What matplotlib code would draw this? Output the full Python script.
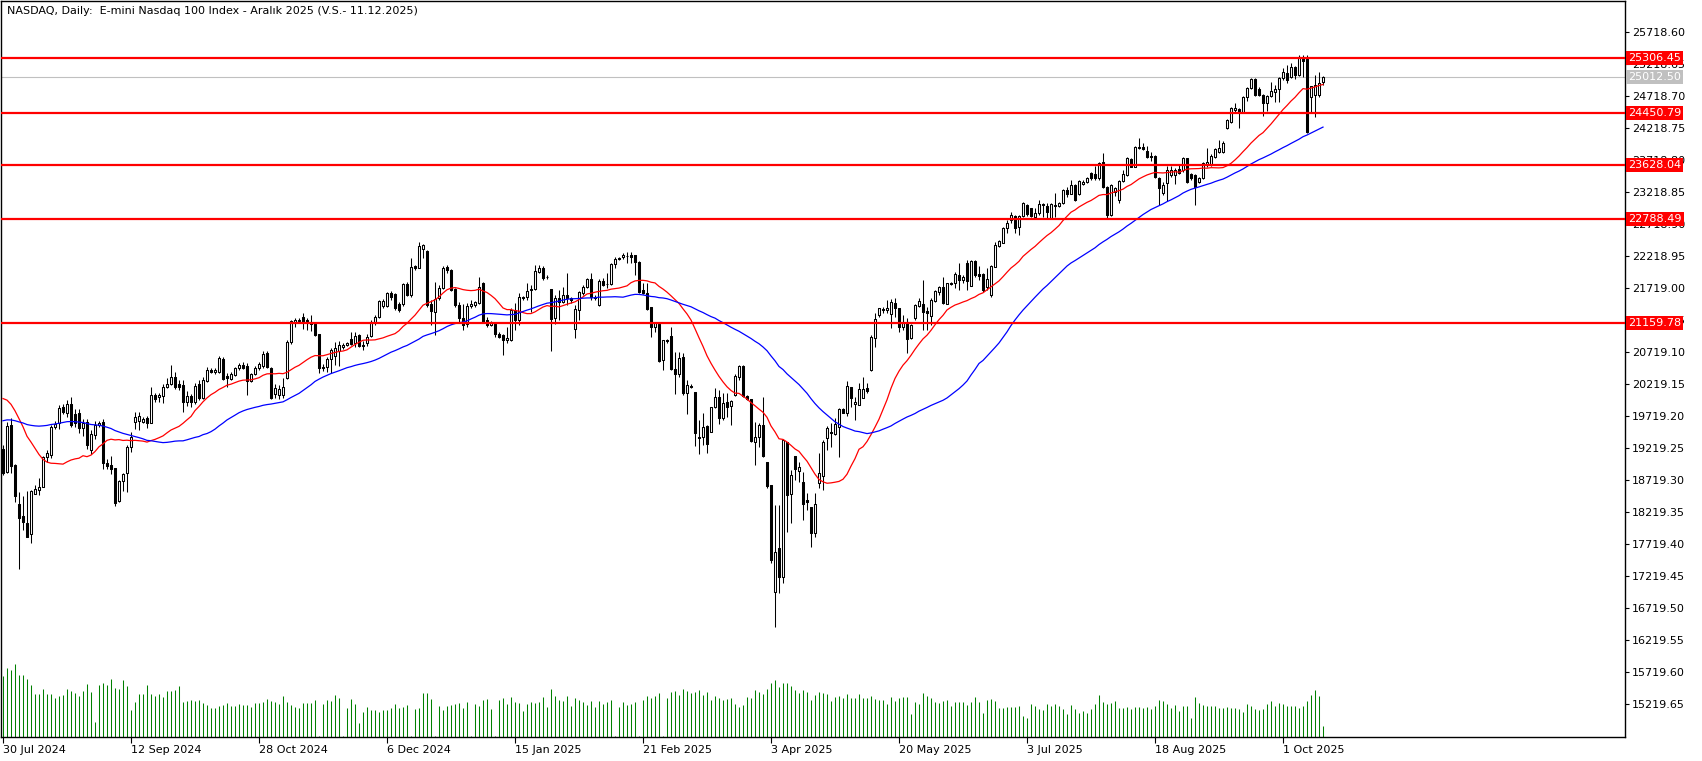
import numpy as np
import pandas as pd
import matplotlib
matplotlib.use("Agg")
import matplotlib.pyplot as plt
from matplotlib.patches import Rectangle
from matplotlib.collections import PatchCollection

# Daily bars (E-mini Nasdaq 100), 30 Jul 2024 .. mid Oct 2025
opens = [
    19194, 18845, 19574, 18955, 18340, 18153, 18038, 17867, 18502, 18564,
    18606, 19080, 19105, 19537, 19600, 19860, 19756, 19902, 19740, 19756,
    19522, 19626, 19184, 19418, 19574, 19626, 18986, 18955, 18897, 18393,
    18705, 18820, 19225, 19626, 19642, 19626, 19678, 19610, 20042, 20006,
    20027, 20173, 20214, 20318, 20214, 20198, 19938, 20027, 19928, 20214,
    19996, 20261, 20433, 20396, 20407, 20604, 20339, 20287, 20355, 20459,
    20511, 20495, 20266, 20375, 20464, 20490, 20703, 20469, 20053, 20042,
    20042, 20313, 20865, 21177, 21200, 21265, 21213, 21187, 21146, 20990,
    20485, 20474, 20599, 20651, 20735, 20787, 20823, 20917, 20849, 20979,
    20823, 20860, 20969, 21187, 21255, 21432, 21437, 21630, 21614, 21463,
    21458, 21770, 21604, 22051, 22031, 22322, 22291, 21458, 21343, 21552,
    21718, 22040, 21994, 21690, 21450, 21240, 21150, 21440, 21450, 21480,
    21786, 21213, 21140, 21146, 20990, 20979, 20901, 20901, 21370, 21213,
    21573, 21578, 21680, 21693, 21968, 22031, 21890, 21693, 21240, 21552,
    21500, 21604, 21562, 21068, 21370, 21640, 21734, 21849, 21578, 21448,
    21823, 21770, 21776, 22083, 22170, 22192, 22215, 22229, 22229, 22124,
    21682, 21630, 21412, 21110, 21146, 20589, 20900, 20964, 20443, 20365,
    20641, 20068, 20190, 20084, 19392, 19392, 19559, 19470, 19850, 20016,
    19678, 19938, 19870, 20042, 20329, 20495, 20027, 19975, 19313, 19381,
    19574, 19001, 18637, 16972, 17648, 17200, 19304, 18491, 19090, 18861,
    18679, 18403, 18299, 17893, 18674, 18778, 19366, 19470, 19434, 19548,
    19819, 19756, 20162, 19897, 19887, 20000, 20147, 20433, 20927, 21292,
    21370, 21370, 21307, 21474, 21396, 21110, 21188, 20928, 21240, 21432,
    21464, 21354, 21276, 21516, 21656, 21724, 21464, 21797, 21786, 21917,
    21838, 22109, 21745, 22140, 21927, 21927, 21724, 21604, 22047, 22375,
    22411, 22645, 22775, 22838, 22671, 22838, 23010, 22968, 22817, 22880,
    23002, 22994, 22801, 23000, 22994, 23036, 23244, 23181, 23322, 23176,
    23338, 23374, 23504, 23494, 23426, 23676, 23296, 22853, 23218, 23088,
    23390, 23478, 23728, 23608, 23894, 23920, 23858, 23774, 23774, 23426,
    23192, 23348, 23478, 23478, 23566, 23556, 23738, 23488, 23478, 23374,
    23426, 23634, 23634, 23764, 23842, 23842, 24206, 24310, 24493, 24508,
    24467, 24690, 24831, 24971, 24815, 24727, 24597, 24711, 24779, 24815,
    24987, 25076, 25003, 25159, 25039, 25300, 25284, 24701, 24727, 24727,
    24925,
]
highs = [
    19260, 19615, 19678, 18960, 18528, 18465, 18538, 18559, 18637, 18741,
    19095, 19190, 19574, 19636, 19886, 19902, 19964, 20006, 19818, 19829,
    19673, 19662, 19496, 19641, 19630, 19662, 19050, 19095, 18900, 18715,
    18830, 19256, 19470, 19782, 19782, 19704, 19720, 20173, 20068, 20080,
    20214, 20302, 20511, 20407, 20276, 20276, 20100, 20060, 20224, 20276,
    20318, 20479, 20470, 20460, 20651, 20630, 20381, 20407, 20485, 20547,
    20557, 20540, 20390, 20490, 20560, 20724, 20735, 20480, 20209, 20198,
    20303, 20901, 21213, 21240, 21240, 21317, 21240, 21290, 21161, 20990,
    20520, 20640, 20771, 20875, 20891, 20860, 20870, 21021, 21021, 20995,
    20880, 21000, 21213, 21290, 21526, 21541, 21656, 21666, 21630, 21490,
    21786, 21802, 22177, 22080, 22437, 22400, 22307, 21520, 21812, 21760,
    22050, 22068, 22010, 21720, 21500, 21460, 21480, 21520, 21510, 21890,
    21800, 21260, 21200, 21180, 21020, 21000, 21100, 21400, 21480, 21630,
    21590, 21786, 21760, 22073, 22073, 22057, 21910, 21693, 21604, 21682,
    21734, 21953, 21578, 21448, 21666, 21760, 21864, 21942, 21600, 21849,
    21864, 21942, 22099, 22203, 22200, 22260, 22281, 22281, 22229, 22140,
    21786, 21786, 21412, 21180, 21162, 20901, 20920, 21110, 20719, 20719,
    20704, 20277, 20210, 20095, 19652, 19767, 19574, 19860, 20146, 20120,
    20068, 20068, 19964, 20370, 20511, 20511, 20042, 19975, 19626, 19610,
    20016, 19001, 18637, 18325, 18325, 19360, 19314, 18871, 19090, 19002,
    18835, 18507, 18299, 18507, 19132, 19340, 19559, 19600, 19678, 19834,
    19834, 20261, 20173, 20017, 20225, 20329, 20230, 20980, 21328, 21400,
    21420, 21526, 21537, 21552, 21406, 21292, 21240, 21152, 21464, 21552,
    21838, 21422, 21552, 21682, 21745, 21890, 21797, 21810, 21969, 22099,
    21917, 22151, 22151, 22151, 22057, 21942, 22021, 22073, 22437, 22463,
    22671, 22775, 22895, 22853, 22853, 23062, 23025, 22968, 22958, 23088,
    23036, 23036, 23036, 23192, 23051, 23254, 23296, 23400, 23338, 23400,
    23400, 23452, 23530, 23624, 23686, 23827, 23306, 23332, 23296, 23400,
    23556, 23754, 23748, 23931, 24050, 23972, 23931, 23842, 23790, 23452,
    23374, 23618, 23618, 23588, 23634, 23764, 23748, 23504, 23488, 23452,
    23686, 23894, 23806, 23894, 24024, 24008, 24347, 24545, 24597, 24519,
    24711, 24857, 24998, 24987, 24857, 24737, 24727, 24935, 24883, 25013,
    25143, 25195, 25221, 25180, 25352, 25352, 25352, 24867, 25039, 25091,
    25030,
]
lows = [
    18800, 18830, 18830, 18366, 17320, 17935, 17825, 17726, 18491, 18481,
    18601, 19000, 19053, 19506, 19506, 19745, 19704, 19548, 19538, 19454,
    19407, 19194, 19116, 19350, 19550, 18887, 18887, 18804, 18314, 18372,
    18538, 18523, 19158, 19506, 19496, 19600, 19532, 19600, 19938, 19938,
    19912, 20146, 20198, 20136, 20120, 19782, 19870, 19850, 19900, 19960,
    19980, 20240, 20380, 20370, 20381, 20270, 20173, 20270, 20340, 20440,
    20450, 20042, 20250, 20350, 20440, 20460, 20460, 19980, 19990, 19980,
    19990, 20292, 20840, 21110, 21170, 21073, 21058, 21042, 20970, 20381,
    20420, 20407, 20381, 20510, 20495, 20760, 20800, 20823, 20787, 20787,
    20745, 20813, 20953, 21135, 21240, 21406, 21412, 21526, 21370, 21333,
    21437, 21588, 21578, 21990, 22020, 22177, 21422, 21135, 20979, 21520,
    21700, 21940, 21670, 21420, 21160, 21060, 21100, 21400, 21420, 21460,
    21180, 21100, 21120, 20950, 20930, 20667, 20850, 20880, 21050, 21135,
    21530, 21530, 21343, 21680, 21942, 21838, 21860, 20735, 21151, 21214,
    21474, 21448, 21484, 20927, 21214, 21604, 21708, 21526, 21530, 21432,
    21744, 21708, 21760, 22021, 22150, 22160, 22099, 22099, 21916, 21640,
    21620, 21370, 20953, 21030, 20563, 20433, 20860, 20433, 20053, 20329,
    20042, 19741, 20150, 19246, 19121, 19262, 19142, 19460, 19835, 19590,
    19652, 19704, 19574, 20027, 20277, 20016, 19964, 19313, 18950, 19236,
    19080, 18585, 17414, 16425, 16945, 17100, 17909, 18038, 18715, 18689,
    18091, 18247, 17674, 17830, 18585, 18559, 19184, 19236, 19420, 19080,
    19757, 19715, 19860, 19652, 19887, 19990, 20080, 20423, 20797, 21266,
    21330, 21318, 21084, 21266, 21032, 21058, 20704, 20912, 21214, 21422,
    21058, 21058, 21136, 21500, 21604, 21464, 21464, 21760, 21708, 21682,
    21786, 21682, 21745, 21890, 21838, 21656, 21682, 21578, 22036, 22359,
    22411, 22567, 22723, 22567, 22541, 22817, 22838, 22817, 22786, 22853,
    22827, 22801, 22786, 22827, 22984, 23025, 23140, 23176, 23072, 23166,
    23322, 23348, 23400, 23400, 23400, 23270, 22811, 22838, 23150, 23036,
    23374, 23462, 23598, 23598, 23879, 23868, 23738, 23702, 23436, 23010,
    23166, 23077, 23452, 23338, 23488, 23530, 23358, 23400, 23010, 23358,
    23410, 23608, 23618, 23748, 23826, 23826, 24191, 24285, 24467, 24217,
    24451, 24638, 24815, 24711, 24711, 24399, 24477, 24701, 24623, 24612,
    24961, 24909, 24987, 24971, 25024, 25013, 24128, 24441, 24389, 24701,
    24883,
]
closes = [
    18830, 19558, 18939, 18470, 18117, 18064, 17830, 18543, 18570, 18606,
    19080, 19140, 19548, 19590, 19845, 19782, 19902, 19579, 19600, 19522,
    19600, 19262, 19433, 19574, 19610, 18975, 18934, 18892, 18351, 18700,
    18814, 19225, 19392, 19704, 19714, 19662, 19600, 20042, 19980, 20042,
    20173, 20214, 20318, 20162, 20162, 19928, 20027, 19938, 20183, 19990,
    20276, 20433, 20407, 20433, 20615, 20287, 20303, 20370, 20459, 20511,
    20469, 20266, 20370, 20459, 20526, 20682, 20474, 19990, 20147, 20131,
    20173, 20875, 21203, 21208, 21210, 21187, 21161, 21150, 20979, 20459,
    20459, 20604, 20745, 20781, 20823, 20823, 20849, 20844, 20964, 20813,
    20813, 20953, 21187, 21265, 21510, 21510, 21640, 21578, 21396, 21370,
    21770, 21604, 22046, 22020, 22374, 22385, 21448, 21354, 21541, 21718,
    22020, 21990, 21682, 21450, 21240, 21140, 21440, 21460, 21490, 21735,
    21190, 21135, 21160, 20990, 20953, 20901, 20927, 21370, 21213, 21568,
    21552, 21666, 21700, 21979, 22020, 21875, 21880, 21224, 21552, 21500,
    21604, 21552, 21526, 21385, 21656, 21734, 21849, 21578, 21552, 21822,
    21760, 21776, 22083, 22161, 22177, 22229, 22220, 22203, 22114, 21656,
    21630, 21385, 21110, 21162, 20573, 20901, 20880, 20443, 20365, 20625,
    20068, 20193, 20170, 19444, 19366, 19538, 19278, 19850, 20006, 19678,
    19912, 19860, 19948, 20339, 20495, 20032, 19975, 19329, 19381, 19574,
    19090, 18622, 17466, 17596, 17206, 19340, 18481, 18793, 18882, 18924,
    18340, 18377, 17883, 18340, 18830, 19314, 19522, 19444, 19590, 19824,
    19767, 20183, 20001, 19933, 20131, 20131, 20110, 20943, 21224, 21396,
    21380, 21396, 21500, 21396, 21110, 21188, 20912, 21136, 21448, 21516,
    21344, 21328, 21526, 21672, 21734, 21474, 21786, 21776, 21927, 21838,
    21890, 21823, 22135, 21917, 21901, 21682, 21849, 22057, 22385, 22447,
    22645, 22723, 22853, 22645, 22838, 23036, 22869, 22838, 22880, 23025,
    23025, 22905, 23025, 23010, 23046, 23244, 23176, 23322, 23088, 23384,
    23374, 23436, 23426, 23426, 23660, 23296, 22853, 23322, 23270, 23384,
    23494, 23738, 23608, 23920, 23920, 23884, 23764, 23754, 23452, 23270,
    23322, 23556, 23556, 23556, 23514, 23738, 23374, 23426, 23296, 23426,
    23660, 23686, 23774, 23879, 23894, 23972, 24336, 24519, 24519, 24467,
    24690, 24831, 24971, 24727, 24727, 24607, 24711, 24789, 24815, 24987,
    25091, 24961, 25159, 25039, 25326, 25263, 24154, 24867, 24883, 24909,
    25012,
]
volumes = [
    184, 208, 202, 220, 187, 187, 175, 157, 130, 130,
    145, 130, 130, 118, 124, 127, 145, 139, 133, 124,
    139, 160, 136, 46, 157, 163, 157, 175, 148, 145,
    172, 154, 82, 106, 130, 130, 157, 130, 124, 130,
    121, 139, 139, 142, 154, 106, 109, 112, 109, 112,
    103, 97, 88, 88, 94, 97, 103, 94, 94, 100,
    97, 97, 91, 103, 103, 106, 115, 109, 106, 100,
    124, 106, 97, 90, 88, 103, 103, 103, 112, 4,
    100, 112, 109, 127, 118, 4, 88, 115, 100, 43,
    76, 91, 82, 82, 76, 82, 82, 88, 100, 88,
    91, 97, 4, 85, 88, 133, 133, 115, 4, 94,
    82, 94, 97, 100, 103, 88, 106, 4, 100, 95,
    112, 115, 85, 4, 112, 118, 100, 120, 106, 102,
    80, 100, 106, 102, 106, 120, 90, 145, 124, 112,
    108, 124, 95, 118, 112, 106, 96, 110, 90, 108,
    100, 106, 112, 4, 90, 106, 96, 100, 106, 4,
    112, 124, 118, 125, 132, 4, 118, 136, 140, 128,
    145, 140, 134, 136, 142, 127, 136, 112, 124, 118,
    112, 115, 118, 100, 91, 97, 121, 118, 142, 136,
    130, 145, 163, 172, 151, 163, 163, 154, 142, 133,
    142, 136, 112, 127, 136, 133, 130, 109, 121, 124,
    118, 130, 118, 118, 130, 118, 118, 124, 115, 112,
    112, 100, 121, 109, 118, 121, 121, 70, 106, 100,
    133, 124, 118, 106, 103, 109, 112, 94, 106, 106,
    106, 97, 106, 121, 106, 73, 112, 115, 109, 88,
    88, 91, 91, 91, 94, 64, 58, 100, 94, 85,
    82, 100, 94, 100, 94, 85, 70, 97, 85, 73,
    79, 73, 85, 100, 127, 106, 100, 103, 109, 88,
    88, 91, 85, 91, 91, 88, 91, 85, 94, 112,
    109, 100, 88, 97, 79, 94, 94, 58, 121, 103,
    97, 94, 94, 94, 88, 88, 91, 88, 88, 85,
    76, 100, 94, 85, 82, 85, 100, 109, 94, 103,
    100, 94, 94, 94, 88, 94, 109, 127, 142, 124,
    34,
]
# closes before the first visible bar, only used to seed the moving averages
warmup_closes = [
    18900, 19000, 19050, 19050, 18900, 19070, 19150, 19000, 18800, 18850,
    18800, 18850, 19230, 19200, 19200, 19280, 19460, 19720, 19820, 19950,
    20100, 20150, 19900, 19850, 19620, 19850, 19900, 19950, 19800,
    19900, 20050, 20250, 20500, 20560, 20600, 20800, 20350, 20500, 20550,
    20600, 20000, 19900, 19650, 19950, 19900, 19200, 19000, 19250, 19300,
]

levels = [25306.45, 24450.79, 23628.04, 22788.49, 21159.78]
last_price = 25012.50

tick_start, tick_step = 25718.60, 499.95
date_ticks = [0, 32, 64, 96, 128, 160, 192, 224, 256, 288, 320]
date_labels = ["30 Jul 2024", "12 Sep 2024", "28 Oct 2024", "6 Dec 2024", "15 Jan 2025",
               "21 Feb 2025", "3 Apr 2025", "20 May 2025", "3 Jul 2025", "18 Aug 2025",
               "1 Oct 2025"]

title = "NASDAQ, Daily:  E-mini Nasdaq 100 Index - Aralık 2025 (V.S.- 11.12.2025)"


def main():
    o = np.array(opens, float)
    c = np.array(closes, float)
    h = np.maximum.reduce([np.array(highs, float), o, c])
    l = np.minimum.reduce([np.array(lows, float), o, c])
    v = np.array(volumes, float)
    n = len(c)
    assert len(o) == len(h) == len(l) == len(v) == n
    x = np.arange(n)

    all_closes = pd.Series(warmup_closes + closes, dtype=float)
    ma_fast = all_closes.rolling(20).mean().values[len(warmup_closes):]
    ma_slow = all_closes.rolling(50).mean().values[len(warmup_closes):]

    W, H = 1702, 761
    fig = plt.figure(figsize=(W / 100, H / 100), dpi=100, facecolor="white")
    px_l, px_r, px_t, px_b = 1, 1625, 1, 737
    pos = [px_l / W, 1 - px_b / H, (px_r - px_l) / W, (px_b - px_t) / H]

    vax = fig.add_axes(pos, zorder=0)
    ax = fig.add_axes(pos, zorder=1)
    ax.patch.set_visible(False)

    xlim = (-0.5, 405.5)
    ylim = (14702, 26195)

    # volumes at the bottom
    vax.vlines(x, 0, v, color="#008000", lw=0.75)
    vax.set_xlim(*xlim)
    vax.set_ylim(0, 2227)
    vax.axis("off")

    # candles
    ax.vlines(x, l, h, color="black", lw=0.75, zorder=2)
    bw = 0.5
    bull, bear = [], []
    for i in range(n):
        lo, hi = min(o[i], c[i]), max(o[i], c[i])
        rect = Rectangle((i - bw / 2, lo), bw, hi - lo)
        (bull if c[i] >= o[i] else bear).append(rect)
    ax.add_collection(PatchCollection(bull, facecolor="white", edgecolor="black",
                                      linewidth=0.75, zorder=2.2))
    ax.add_collection(PatchCollection(bear, facecolor="black", edgecolor="black",
                                      linewidth=0.75, zorder=2.2))

    # moving averages
    ax.plot(x, ma_fast, color="#ff0000", lw=0.9, zorder=3)
    ax.plot(x, ma_slow, color="#0000ff", lw=0.9, zorder=3)

    # current price and level lines
    ax.axhline(last_price, color="#c0c0c0", lw=0.8, zorder=1)
    for lv in levels:
        ax.axhline(lv, color="#ff0000", lw=1.6, zorder=4)

    ax.set_xlim(*xlim)
    ax.set_ylim(*ylim)

    yt = [tick_start - k * tick_step for k in range(22)]
    ax.yaxis.tick_right()
    ax.set_yticks(yt)
    ax.set_yticklabels([f"{t:.2f}" for t in yt])
    ax.tick_params(axis="y", direction="out", length=3, width=0.8, pad=2, labelsize=8)

    ax.set_xticks(date_ticks)
    ax.set_xticklabels(date_labels)
    ax.tick_params(axis="x", direction="out", length=4, width=0.8, pad=2, labelsize=8)
    for lbl in ax.get_xticklabels():
        lbl.set_horizontalalignment("left")

    for sp in ax.spines.values():
        sp.set_color("black")
        sp.set_linewidth(1.0)

    # price boxes on the right scale
    tr = ax.get_yaxis_transform()
    box_x = 1 + 3 / (px_r - px_l)
    ax.text(box_x, last_price, f"{last_price:.2f}", transform=tr, ha="left", va="center",
            color="white", fontsize=8, zorder=6, clip_on=False,
            bbox=dict(boxstyle="square,pad=0.18", fc="#c0c0c0", ec="none"))
    for lv in levels:
        ax.text(box_x, lv, f"{lv:.2f}", transform=tr, ha="left", va="center",
                color="white", fontsize=8, zorder=6, clip_on=False,
                bbox=dict(boxstyle="square,pad=0.18", fc="#ff0000", ec="none"))

    ax.text(6 / (px_r - px_l), 1 - 10 / (px_b - px_t), title, transform=ax.transAxes,
            ha="left", va="center", fontsize=8, color="black")

    fig.savefig("out.png", dpi=100)
    plt.close(fig)


if __name__ == "__main__":
    main()
